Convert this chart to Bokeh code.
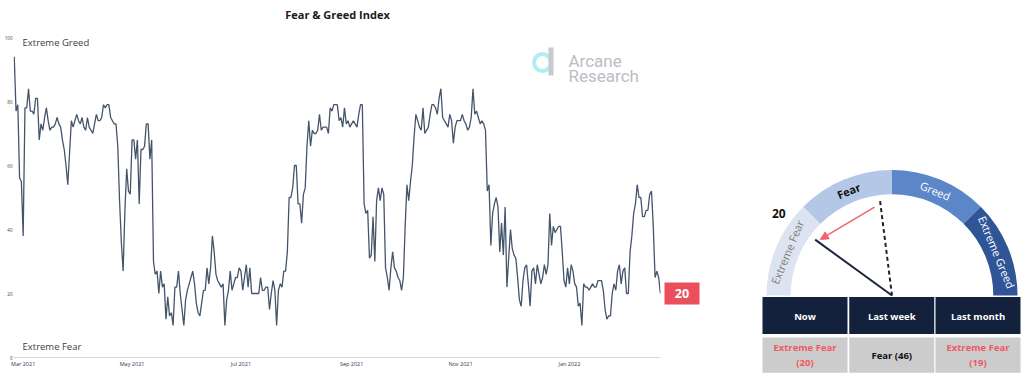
import math
import pandas as pd
from bokeh.plotting import figure
from bokeh.models import (Range1d, MonthsTicker, DatetimeTickFormatter,
                          Arrow, NormalHead, FixedTicker)
from bokeh.layouts import row
from bokeh.embed import file_html
from bokeh.resources import INLINE
from bokeh.core.properties import value

# ---------------- data ----------------
start_date = "2021-02-24"
fg_values = [
    94, 77, 79, 56, 55, 38, 78, 78, 84, 77,
    77, 76, 81, 81, 68, 73, 71, 75, 78, 74,
    71, 72, 72, 73, 75, 73, 72, 68, 65, 60,
    54, 64, 74, 72, 74, 76, 74, 73, 75, 72,
    71, 75, 72, 71, 70, 73, 76, 74, 74, 75,
    79, 78, 79, 79, 75, 74, 73, 73, 66, 49,
    36, 27, 46, 59, 52, 51, 68, 68, 62, 68,
    48, 65, 65, 66, 73, 73, 62, 68, 30, 26,
    27, 20, 27, 22, 23, 12, 19, 13, 14, 10,
    22, 22, 27, 20, 15, 10, 18, 21, 23, 25,
    27, 23, 17, 14, 13, 17, 21, 21, 28, 23,
    28, 38, 33, 26, 24, 23, 22, 23, 10, 18,
    21, 27, 21, 23, 25, 25, 28, 27, 21, 25,
    29, 22, 28, 20, 20, 20, 20, 20, 25, 21,
    21, 22, 22, 15, 20, 24, 21, 10, 21, 23,
    22, 27, 27, 33, 50, 50, 53, 60, 60, 48,
    48, 42, 51, 53, 66, 74, 66, 71, 70, 70,
    71, 76, 71, 72, 72, 72, 70, 78, 77, 79,
    79, 79, 74, 75, 72, 78, 73, 74, 72, 73,
    74, 73, 72, 76, 79, 79, 48, 45, 46, 31,
    32, 44, 30, 49, 53, 49, 53, 51, 28, 25,
    21, 28, 33, 28, 27, 25, 24, 21, 25, 41,
    54, 49, 55, 60, 69, 76, 74, 72, 71, 78,
    70, 71, 72, 76, 79, 79, 78, 76, 81, 84,
    75, 74, 73, 72, 76, 74, 67, 72, 74, 74,
    74, 76, 74, 73, 71, 72, 75, 84, 76, 77,
    75, 73, 74, 73, 71, 52, 54, 35, 45, 48,
    50, 47, 33, 42, 32, 47, 22, 31, 40, 34,
    32, 31, 25, 18, 16, 24, 28, 29, 23, 16,
    27, 28, 23, 29, 26, 23, 25, 29, 26, 29,
    45, 35, 41, 39, 40, 41, 41, 33, 24, 22,
    28, 23, 29, 27, 23, 22, 16, 17, 10, 23,
    22, 22, 21, 22, 23, 22, 22, 24, 24, 24,
    21, 15, 12, 13, 13, 20, 23, 21, 27, 29,
    23, 27, 28, 20, 20, 33, 38, 45, 48, 54,
    50, 50, 44, 44, 46, 46, 51, 52, 41, 25,
    27, 25, 20,
]
y_ticks = [0, 20, 40, 60, 80, 100]
gauge_bands = [0, 25, 50, 75, 100]
band_names = ["Extreme Fear", "Fear", "Greed", "Extreme Greed"]
band_colors = ["#dde4f1", "#b4c7e7", "#5b87c8", "#2f5597"]
band_text_colors = ["#808080", "#111111", "#ffffff", "#ffffff"]
band_text_styles = ["normal", "bold", "normal", "normal"]
table_headers = ["Now", "Last week", "Last month"]
table_values = [20, 46, 19]

dates = pd.date_range(start_date, periods=len(fg_values), freq="D")

def ms(ts):
    return pd.Timestamp(ts).value / 1e6

H = 378
FONT = "Open Sans"

# ---------------- left chart ----------------
W1 = 662
X0 = ms(dates[0] - pd.Timedelta(hours=10))
X1 = ms(dates[-1] + pd.Timedelta(hours=1))
FL, FR = 13, 660           # page x of the plotting frame
Y100, Y0 = 37, 357         # page y of value 100 and value 0
YTOP = Y0 / (Y0 - Y100) * 100.0   # frame reaches the top of the page

def px2x(px):
    return X0 + (X1 - X0) * (px - FL) / (FR - FL)

def py2y(py):
    return (Y0 - py) / (Y0 - Y100) * 100.0

p = figure(width=W1, height=H, x_axis_type="datetime", title=None,
           x_range=Range1d(X0, X1), y_range=Range1d(0, YTOP),
           output_backend="svg", toolbar_location=None,
           min_border_left=FL, min_border_right=W1 - FR,
           min_border_top=0, min_border_bottom=H - Y0)
p.frame_align = False
p.outline_line_color = None
p.grid.visible = False
p.background_fill_color = "white"
p.border_fill_color = "white"

p.line(dates, fg_values, line_color="#44546a", line_width=1.3)

p.yaxis.ticker = FixedTicker(ticks=y_ticks)
p.yaxis.axis_line_color = None
p.yaxis.major_tick_out = 0
p.yaxis.major_tick_in = 0
p.yaxis.minor_tick_out = 0
p.yaxis.minor_tick_in = 0
p.yaxis.major_label_standoff = 1
p.yaxis.major_label_text_font_size = "4.5px"
p.yaxis.major_label_text_color = "#404040"
p.yaxis.major_label_text_font = FONT

p.xaxis.ticker = MonthsTicker(months=[0, 2, 4, 6, 8, 10])
fmt = "%b %Y"
p.xaxis.formatter = DatetimeTickFormatter(days=fmt, months=fmt, years=fmt)
p.xaxis.axis_line_color = "#d9d9d9"
p.xaxis.major_tick_out = 0
p.xaxis.major_tick_in = 0
p.xaxis.minor_tick_out = 0
p.xaxis.minor_tick_in = 0
p.xaxis.major_label_standoff = 2
p.xaxis.major_label_text_font_size = "5.5px"
p.xaxis.major_label_text_color = "#2b3a55"
p.xaxis.major_label_text_font = FONT

# title
p.text(x=[px2x(337)], y=[py2y(13.5)], text=["Fear & Greed Index"], text_font=value(FONT),
       text_font_size="11px", text_font_style="bold", text_color="#1a1a1a",
       text_align="center", text_baseline="middle")

# zone labels
p.text(x=[px2x(22)], y=[py2y(42)], text=["Extreme Greed"], text_font=value(FONT),
       text_font_size="9.5px", text_color="#404040", text_baseline="middle", text_align="left")
p.text(x=[px2x(22)], y=[py2y(346)], text=["Extreme Fear"], text_font=value(FONT),
       text_font_size="9.5px", text_color="#404040", text_baseline="middle", text_align="left")

# logo
p.scatter(x=[px2x(542)], y=[py2y(62)], marker="circle", size=17, fill_color=None,
          line_color="#b2eef1", line_width=4)
p.rect(x=[px2x(550.5)], y=[py2y(61)], width=5, height=28, width_units="screen",
       height_units="screen", fill_color="#c9c9d0", line_color=None)
p.text(x=[px2x(568)] * 2, y=[py2y(60), py2y(75)], text=["Arcane", "Research"],
       text_font=value("Roboto"), text_font_size="17px", text_color="#bcbcc4",
       text_baseline="alphabetic", text_align="left")

# ---------------- right panel: value box, gauge, table ----------------
RX = W1
W2 = 1024 - RX
g = figure(width=W2, height=H, x_range=Range1d(0, W2), y_range=Range1d(0, H),
           output_backend="svg", toolbar_location=None, title=None, min_border=0,
           min_border_left=0, min_border_right=0, min_border_top=0, min_border_bottom=0,
           x_axis_location=None, y_axis_location=None)
g.frame_align = False
g.grid.visible = False
g.outline_line_color = None
g.background_fill_color = "white"
g.border_fill_color = "white"

def fx(px):
    return px - RX

def fy(py):
    return H - py

# current value box, aligned with the last point of the left chart
now_py = Y0 - fg_values[-1] / 100.0 * (Y0 - Y100)
g.rect(x=[fx(681.5)], y=[fy(now_py)], width=35, height=22, fill_color="#eb4f5b", line_color=None)
g.text(x=[fx(681.5)], y=[fy(now_py)], text=[str(fg_values[-1])], text_font=value(FONT),
       text_font_size="12.5px", text_font_style="bold", text_color="white",
       text_align="center", text_baseline="middle")

cx, cy = fx(891.5), fy(295)
R_OUT, R_IN = 125.5, 101.3

def ang(v):
    return math.pi * (1 - v / 100.0)

g.annular_wedge(x=[cx] * 4, y=[cy] * 4, inner_radius=R_IN, outer_radius=R_OUT,
                start_angle=[ang(b) for b in gauge_bands[1:]],
                end_angle=[ang(b) for b in gauge_bands[:-1]],
                fill_color=band_colors, line_color=None)

r_mid = (R_IN + R_OUT) / 2
for i, name in enumerate(band_names):
    th = ang((gauge_bands[i] + gauge_bands[i + 1]) / 2)
    g.text(x=[cx + r_mid * math.cos(th)], y=[cy + r_mid * math.sin(th)], text=[name],
           angle=th - math.pi / 2, text_font=value(FONT), text_font_size="11px",
           text_font_style=band_text_styles[i], text_color=band_text_colors[i],
           text_align="center", text_baseline="middle")

now_v, week_v, month_v = table_values
tn, tw = ang(now_v), ang(week_v)
g.segment(x0=[cx], y0=[cy], x1=[cx + 97 * math.cos(tw)], y1=[cy + 97 * math.sin(tw)],
          line_color="#222222", line_width=2, line_dash="4 3")
g.segment(x0=[cx], y0=[cy], x1=[cx + 95 * math.cos(tn)], y1=[cy + 95 * math.sin(tn)],
          line_color="#1c2640", line_width=2)
a0, a1 = tw + math.radians(4), tn - math.radians(2)
g.add_layout(Arrow(end=NormalHead(size=8, fill_color="#f0646e", line_color="#f0646e"),
                   x_start=cx + 90 * math.cos(a0), y_start=cy + 90 * math.sin(a0),
                   x_end=cx + 91 * math.cos(a1), y_end=cy + 91 * math.sin(a1),
                   line_color="#f0646e", line_width=1.5))
g.text(x=[cx + 140 * math.cos(tn)], y=[cy + 140 * math.sin(tn)], text=[str(now_v)],
       text_font=value(FONT), text_font_size="12px", text_font_style="bold",
       text_color="#111111", text_align="center", text_baseline="middle")

# table
col_x = [fx(804.5), fx(891.25), fx(977.5)]
hdr_top, hdr_bot = 296.5, 333.5
row_top, row_bot = 337, 372.3
g.rect(x=col_x, y=[fy((hdr_top + hdr_bot) / 2)] * 3, width=85, height=hdr_bot - hdr_top,
       fill_color="#14213d", line_color=None)
g.rect(x=col_x, y=[fy((row_top + row_bot) / 2)] * 3, width=85, height=row_bot - row_top,
       fill_color="#cccccc", line_color=None)
g.text(x=col_x, y=[fy((hdr_top + hdr_bot) / 2 + 1)] * 3, text=table_headers,
       text_font=value(FONT), text_font_size="9.5px", text_font_style="bold",
       text_color="white", text_align="center", text_baseline="middle")

def band_of(v):
    for i in range(4):
        if v <= gauge_bands[i + 1]:
            return band_names[i]
    return band_names[-1]

cell_text, cell_color = [], []
for v in table_values:
    nm = band_of(v)
    if nm.startswith("Extreme"):
        cell_text.append(f"{nm}\n({v})")
        cell_color.append("#ee5862")
    else:
        cell_text.append(f"{nm} ({v})")
        cell_color.append("#111111")
g.text(x=col_x, y=[fy((row_top + row_bot) / 2)] * 3, text=cell_text, text_font=value(FONT),
       text_font_size="9.5px", text_font_style="bold", text_color=cell_color,
       text_align="center", text_baseline="middle", text_line_height=1.15)

layout = row(p, g, spacing=0)
open("out.html", "w").write(file_html(layout, INLINE))
